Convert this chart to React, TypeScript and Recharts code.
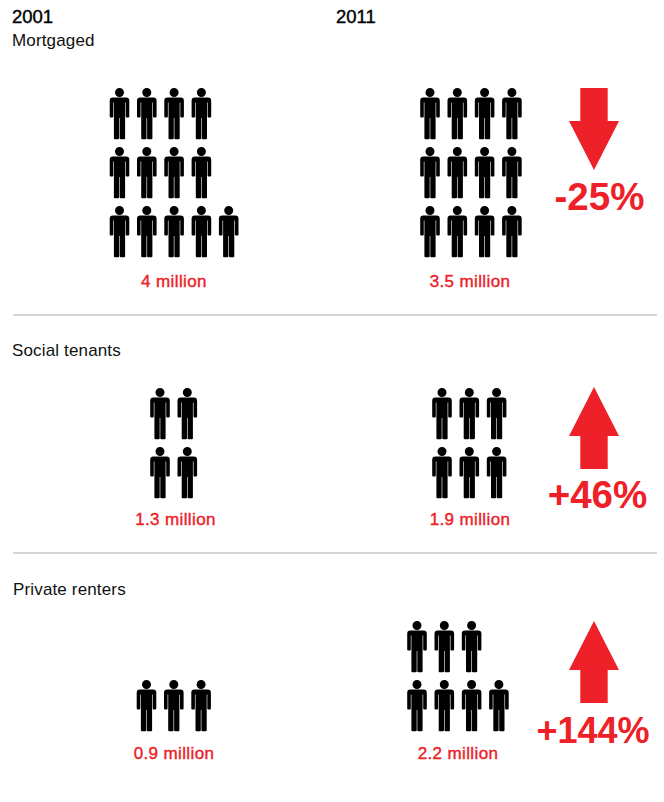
import React from "react";
import { ScatterChart, Scatter, XAxis, YAxis, ReferenceLine } from "recharts";

// Housing tenure in England and Wales, 2001 and 2011
const years = ["2001", "2011"];
const tenures = ["Mortgaged", "Social tenants", "Private renters"];
const millions2001 = [4, 1.3, 0.9];
const millions2011 = [3.5, 1.9, 2.2];
const changePercent = [-25, 46, 144];
// Figures per row of the pictogram, top row first
const rows2001 = [[4, 4, 5], [2, 2], [3]];
const rows2011 = [[4, 4, 4], [3, 3], [3, 4]];

const W = 664;
const H = 802;
const RED = "#ee2028";
const FONT = "'Liberation Sans', Arial, sans-serif";

// Page layout for each tenure block, in page pixels
const layout = [
  { left2001: 119.5, top2001: 88, left2011: 430, top2011: 88, labelY: 287, arrowTop: 88, pctX: 599.5, pctY: 210, pctSize: 38.5, titleX: 12, titleY: 46, lab01: 174, lab11: 470 },
  { left2001: 160, top2001: 388, left2011: 442, top2011: 388, labelY: 525, arrowTop: 387, pctX: 597.5, pctY: 508, pctSize: 38.5, titleX: 12, titleY: 356, lab01: 175.5, lab11: 470 },
  { left2001: 146.5, top2001: 680, left2011: 417, top2011: 621, labelY: 759, arrowTop: 621, pctX: 593, pctY: 743, pctSize: 36, titleX: 13, titleY: 595, lab01: 174, lab11: 458 },
];
const PITCH_X = 27.3;
const PITCH_Y = 59;
const DIVIDERS = [315, 553];

type Pt = { x: number; y: number; text?: string; dir?: number; size?: number };

const figures = (rows: number[][], left: (i: number) => number, top: (i: number) => number): Pt[] =>
  rows.flatMap((block, i) =>
    block.flatMap((n, r) =>
      Array.from({ length: n }, (_, c) => ({ x: left(i) + c * PITCH_X, y: top(i) + r * PITCH_Y }))
    )
  );

const people: Pt[] = [
  ...figures(rows2001, (i) => layout[i].left2001, (i) => layout[i].top2001),
  ...figures(rows2011, (i) => layout[i].left2011, (i) => layout[i].top2011),
];
const arrows: Pt[] = changePercent.map((c, i) => ({ x: 594, y: layout[i].arrowTop, dir: Math.sign(c) }));
const pctLabels: Pt[] = changePercent.map((c, i) => ({
  x: layout[i].pctX,
  y: layout[i].pctY,
  size: layout[i].pctSize,
  text: `${c > 0 ? "+" : ""}${c}%`,
}));
const valueLabels: Pt[] = tenures.flatMap((_, i) => [
  { x: layout[i].lab01, y: layout[i].labelY, text: `${millions2001[i]} million` },
  { x: layout[i].lab11, y: layout[i].labelY, text: `${millions2011[i]} million` },
]);
const titles: Pt[] = tenures.map((t, i) => ({ x: layout[i].titleX, y: layout[i].titleY, text: t }));
const yearLabels: Pt[] = years.map((t, i) => ({ x: i === 0 ? 12 : 336, y: 23, text: t }));

// Standing figure, anchored on the top centre of the head
const PERSON =
  "M0 0a4.5 4.5 0 1 1 0 9a4.5 4.5 0 1 1 0-9z" +
  "M-6.6 9.6H6.6a3.2 3.2 0 0 1 3.2 3.2V28.6a1 1 0 0 1-1 1H7.2a1 1 0 0 1-1-1V14.5H5.6V50.3a1 1 0 0 1-1 1H1.3a1 1 0 0 1-1-1V30H-0.3V50.3a1 1 0 0 1-1 1H-4.6a1 1 0 0 1-1-1V14.5H-6.2V28.6a1 1 0 0 1-1 1H-8.8a1 1 0 0 1-1-1V12.8a3.2 3.2 0 0 1 3.2-3.2z";

const PersonShape = (p: any) => <path d={PERSON} transform={`translate(${p.cx},${p.cy})`} fill="#000" />;

const ArrowShape = (p: any) => {
  const d = "M-13.7 0H13.7V33H25L0 82L-25 33H-13.7Z";
  const up = p.payload.dir > 0;
  const t = up ? `translate(${p.cx},${p.cy + 82}) scale(1,-1)` : `translate(${p.cx},${p.cy})`;
  return <path d={d} transform={t} fill={RED} />;
};

const textShape =
  (size: number, weight: number | string, fill: string, anchor: "start" | "middle", stroke = 0, spacing = 0) =>
  (p: any) => (
    <text
      x={p.cx}
      y={p.cy}
      fontFamily={FONT}
      fontSize={p.payload.size ?? size}
      fontWeight={weight}
      fill={fill}
      textAnchor={anchor}
      stroke={stroke ? fill : "none"}
      strokeWidth={stroke}
      letterSpacing={spacing}
    >
      {p.payload.text}
    </text>
  );

export default function App() {
  return (
    <div style={{ position: "absolute", left: 0, top: 0 }}>
      <ScatterChart width={W} height={H} margin={{ top: 0, right: 0, bottom: 0, left: 0 }}>
        <XAxis type="number" dataKey="x" domain={[0, W]} hide />
        <YAxis type="number" dataKey="y" domain={[0, H]} reversed hide />
        {DIVIDERS.map((y) => (
          <ReferenceLine
            key={y}
            segment={[{ x: 13, y }, { x: 657, y }]}
            stroke="#c8c8c8"
            strokeWidth={1.3}
          />
        ))}
        <Scatter data={people} isAnimationActive={false} shape={PersonShape} />
        <Scatter data={arrows} isAnimationActive={false} shape={ArrowShape} />
        <Scatter data={pctLabels} isAnimationActive={false} shape={textShape(36, "bold", RED, "middle")} />
        <Scatter data={valueLabels} isAnimationActive={false} shape={textShape(17, "normal", RED, "middle", 0.4, 0.38)} />
        <Scatter data={titles} isAnimationActive={false} shape={textShape(17, "normal", "#111", "start", 0, 0.15)} />
        <Scatter data={yearLabels} isAnimationActive={false} shape={textShape(18.5, "normal", "#000", "start", 0.4)} />
      </ScatterChart>
    </div>
  );
}
